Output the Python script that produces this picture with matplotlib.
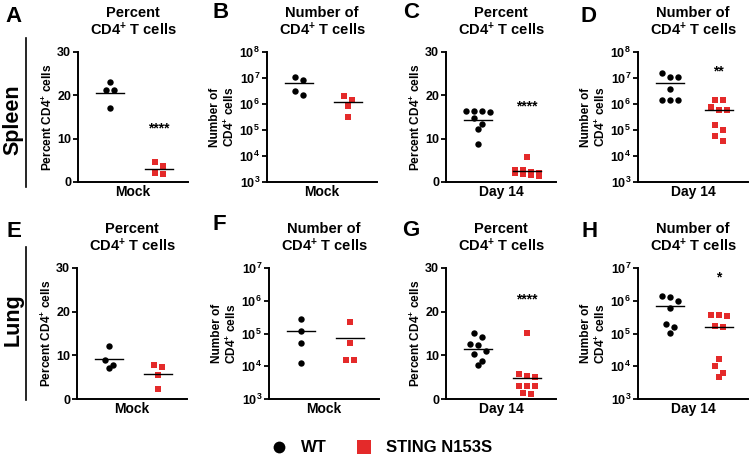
import numpy as np
import matplotlib
matplotlib.use("Agg")
import matplotlib.pyplot as plt
from matplotlib.lines import Line2D
from matplotlib.ticker import FixedLocator, NullLocator, FuncFormatter

# -- data
groups = ["WT", "STING N153S"]

a_wt = [23.1, 21.3, 21.2, 17.0]
a_mut = [4.5, 3.6, 2.1, 1.9]
b_wt = [1.05e7, 8.7e6, 3.2e6, 2.2e6]
b_mut = [2.1e6, 1.4e6, 8.3e5, 3.1e5]
c_wt = [16.4, 16.4, 16.4, 16.1, 14.7, 13.4, 12.3, 8.7]
c_mut = [5.7, 2.8, 2.7, 2.3, 2.1, 2.0, 1.9, 1.5, 1.3]
d_wt = [1.55e7, 1.07e7, 1.07e7, 3.7e6, 1.4e6, 1.4e6, 1.4e6]
d_mut = [1.45e6, 1.45e6, 7.4e5, 5.9e5, 5.9e5, 1.5e5, 1.0e5, 5.8e4, 3.7e4]
e_wt = [12.2, 9.0, 7.9, 7.1]
e_mut = [7.9, 7.4, 5.5, 2.4]
f_wt = [2.8e5, 1.2e5, 5.0e4, 1.3e4]
f_mut = [2.2e5, 5.0e4, 1.5e4, 1.5e4]
g_wt = [15.1, 14.3, 12.5, 12.4, 11.1, 10.3, 8.8, 7.8]
g_mut = [15.1, 5.7, 5.3, 5.1, 3.0, 3.0, 3.0, 1.3, 1.1]
h_wt = [1.35e6, 1.3e6, 9.6e5, 6.1e5, 1.96e5, 1.6e5, 1.07e5]
h_mut = [3.8e5, 3.7e5, 3.5e5, 1.7e5, 1.6e5, 1.7e4, 1.0e4, 6.3e3, 4.6e3]

stars = ["****", "", "****", "**", "", "", "****", "*"]
star_y = [12.4, None, 17.4, 1.8e7, None, None, 22.7, 5e6]

RED = "#e42a2a"

plt.rcParams["font.family"] = ["Liberation Sans", "DejaVu Sans"]
plt.rcParams["font.weight"] = "bold"
plt.rcParams["mathtext.fontset"] = "custom"
plt.rcParams["mathtext.rm"] = "Liberation Sans:bold"
plt.rcParams["mathtext.bf"] = "Liberation Sans:bold"
plt.rcParams["mathtext.it"] = "Liberation Sans:bold"
plt.rcParams["mathtext.default"] = "rm"

W, H = 750, 458
fig = plt.figure(figsize=(7.5, 4.58), dpi=100)


def swarm(vals, ylo, yhi, logy, hpx, wpx, center, diam=7.0, step=8.0,
          maxrow=4):
    # -- group points that overlap vertically, spread them symmetrically
    f = np.log10 if logy else (lambda v: np.asarray(v, float))
    ypx = (f(np.asarray(vals, float)) - f(ylo)) / (f(yhi) - f(ylo)) * hpx
    order = np.argsort(-ypx)
    xs = np.zeros(len(vals))
    grp = []
    for i in list(order) + [None]:
        if (i is not None and grp and len(grp) < maxrow
                and ypx[grp[0]] - ypx[i] < diam):
            grp.append(i)
            continue
        n = len(grp)
        for k, j in enumerate(grp):
            xs[j] = center + (k - (n - 1) / 2.0) * step / wpx
        grp = [i] if i is not None else []
    return xs


PCT = "Percent CD4$^{+}$ cells"
NUM = "Number of\nCD4$^{+}$ cells"
T_PCT = "Percent\nCD4$^{+}$ T cells"
T_NUM = "Number of\nCD4$^{+}$ T cells"

panels = [
    ("A", T_PCT, PCT, "Mock", a_wt, a_mut, False, (0, 30)),
    ("B", T_NUM, NUM, "Mock", b_wt, b_mut, True, (1e3, 1e8)),
    ("C", T_PCT, PCT, "Day 14", c_wt, c_mut, False, (0, 30)),
    ("D", T_NUM, NUM, "Day 14", d_wt, d_mut, True, (1e3, 1e8)),
    ("E", T_PCT, PCT, "Mock", e_wt, e_mut, False, (0, 30)),
    ("F", T_NUM, NUM, "Mock", f_wt, f_mut, True, (1e3, 1e7)),
    ("G", T_PCT, PCT, "Day 14", g_wt, g_mut, False, (0, 30)),
    ("H", T_NUM, NUM, "Day 14", h_wt, h_mut, True, (1e3, 1e7)),
]

# -- layout in pixels: axis left edges, row top/bottom, panel letter centres
lefts = [[78, 267, 446, 638], [77, 269, 446, 638]]
rows = [(52, 182), (268, 399)]
letters = [[(13, 17), (221, 12), (411, 12), (589, 16)],
           [(14, 232), (219, 224), (411, 231), (590, 232)]]
wpx = 110
cx = (0.29, 0.735)

for idx, (lab, title, ylab, xlab, wt, mut, logy, ylim) in enumerate(panels):
    r, c = divmod(idx, 4)
    top, bot = rows[r]
    hpx = bot - top
    ax = fig.add_axes([lefts[r][c] / W, 1 - bot / H, wpx / W, hpx / H])
    if logy:
        ax.set_yscale("log")
    ax.set_xlim(0, 1)
    ax.set_ylim(*ylim)

    for vals, mk, col, ms, x0 in [(wt, "o", "black", 4.6, cx[0]),
                                   (mut, "s", RED, 4.6, cx[1])]:
        xs = swarm(vals, ylim[0], ylim[1], logy, hpx, wpx, x0)
        ax.plot(xs, vals, ls="", marker=mk, color=col, ms=ms, mew=0,
                clip_on=False, zorder=3)
        ax.plot([x0 - 0.13, x0 + 0.13], [np.mean(vals)] * 2, color="black",
                lw=1.0, zorder=4)

    if stars[idx]:
        ax.text(cx[1], star_y[idx], stars[idx], ha="center", va="center",
                fontsize=10, fontweight="bold")

    for s in ["top", "right"]:
        ax.spines[s].set_visible(False)
    for s in ["left", "bottom"]:
        ax.spines[s].set_linewidth(1.4)
    ax.set_xticks([])
    if logy:
        dec = range(int(np.log10(ylim[0])), int(np.log10(ylim[1])) + 1)
        ax.yaxis.set_major_locator(FixedLocator([10.0 ** d for d in dec]))
        ax.yaxis.set_minor_locator(NullLocator())
        ax.yaxis.set_major_formatter(
            FuncFormatter(lambda v, p: "10$^{%d}$" % round(np.log10(v))))
    else:
        ax.set_yticks([0, 10, 20, 30])
    ax.tick_params(axis="y", length=3.5, width=1.3, pad=1.5, labelsize=9)
    ax.set_ylabel(ylab, fontsize=8.6, fontweight="bold", labelpad=1.5,
                  linespacing=1.1)
    ax.set_xlabel(xlab, fontsize=10, fontweight="bold", labelpad=2)
    ax.set_title(title, fontsize=10.5, fontweight="bold", pad=12,
                 linespacing=1.08)

    lx, ly = letters[r][c]
    fig.text(lx / W, 1 - ly / H, lab, fontsize=16, fontweight="bold",
             ha="center", va="center")

# -- row labels with their bars
for name, yc, y0, y1 in [("Spleen", 120, 38, 187), ("Lung", 320, 247, 400)]:
    fig.text(13 / W, 1 - yc / H, name, rotation=90, fontsize=15.5,
             fontweight="bold", ha="center", va="center")
    fig.add_artist(Line2D([26 / W, 26 / W], [1 - y0 / H, 1 - y1 / H],
                          color="black", lw=1.2))

handles = [Line2D([], [], ls="", marker="o", color="black", ms=8.5, mew=0),
           Line2D([], [], ls="", marker="s", color=RED, ms=9.5, mew=0)]
fig.legend(handles, groups, loc="center", bbox_to_anchor=(0.503, 0.022),
           ncol=2, frameon=False, handletextpad=0.35, columnspacing=1.2,
           prop={"weight": "bold", "size": 12})

fig.savefig("out.png", dpi=100)
